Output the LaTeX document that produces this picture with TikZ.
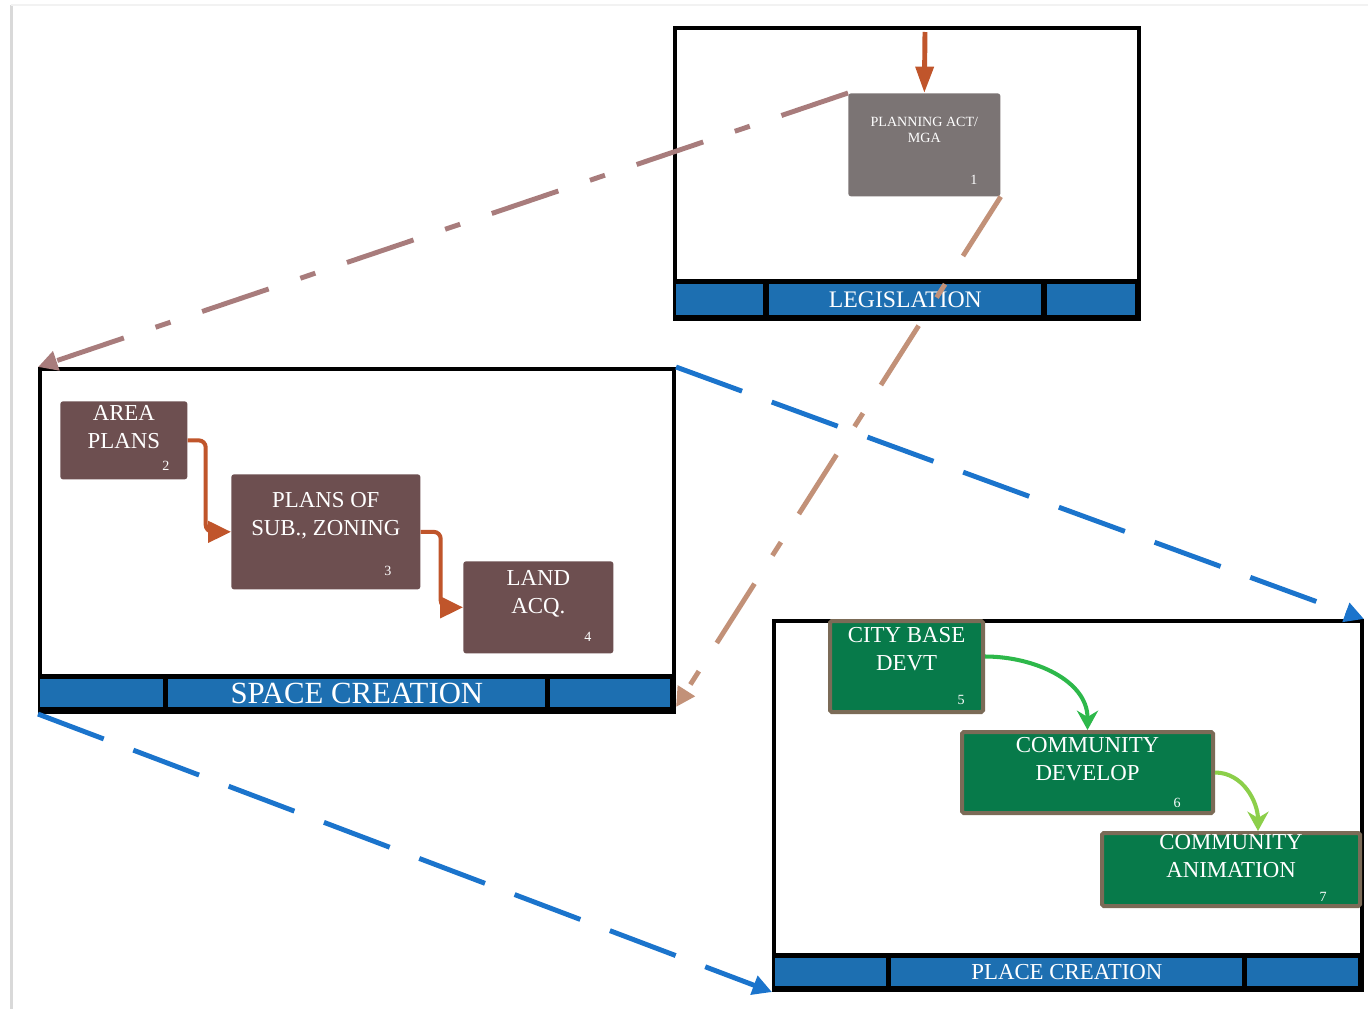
\documentclass[tikz,border=0pt]{standalone}
\usepackage{fontspec}
\setmainfont{Liberation Serif}
\usepackage{tikz}
\usetikzlibrary{arrows.meta}
\usetikzlibrary{positioning}
\definecolor{bandblue}{HTML}{1D6FB1}
\definecolor{zoomblue}{HTML}{1B74CC}
\definecolor{legisgray}{HTML}{7B7474}
\definecolor{spacebrown}{HTML}{6D4F50}
\definecolor{placegreen}{HTML}{077A4A}
\definecolor{placerim}{HTML}{7B6B57}
\definecolor{flowred}{HTML}{C0552B}
\definecolor{linkrose}{HTML}{A87C7C}
\definecolor{linktan}{HTML}{C29178}
\definecolor{flowgreen}{HTML}{2DB84A}
\definecolor{flowlime}{HTML}{8CCF4A}
\tikzstyle{stage_frame} = [rectangle, draw = black, line width = 2.3pt, fill = white, anchor = north west, inner sep = 0]
\tikzstyle{stage_band} = [rectangle, fill = black, anchor = north west, inner sep = 0]
\tikzstyle{band_part} = [rectangle, fill = bandblue, anchor = north west, inner sep = 0, minimum height = 0.56cm, text = white]
\tikzstyle{legis_box} = [rectangle, fill = legisgray, rounded corners = 1.5pt, anchor = north west, inner sep = 0]
\tikzstyle{space_box} = [rectangle, fill = spacebrown, rounded corners = 1.5pt, anchor = north west, inner sep = 0]
\tikzstyle{place_box} = [rectangle, fill = placegreen, draw = placerim, line width = 2.3pt, rounded corners = 1pt, anchor = north west, inner sep = 0]
\tikzstyle{box_text} = [inner sep = 0, align = center, text = white, font = \fontsize{13pt}{15.8pt}\selectfont]
\tikzstyle{num_text} = [inner sep = 0, text = white, font = \fontsize{8pt}{9pt}\selectfont]
\tikzstyle{flow_arrow} = [draw = flowred, line width = 2.3pt, rounded corners = 4pt, -{Triangle[length = 13pt, width = 12pt]}]
\tikzstyle{zoom_line} = [draw = zoomblue, line width = 2.8pt, dash pattern = on 40pt off 18pt, -{Triangle[length = 11pt, width = 11pt]}]
\tikzstyle{legis_link} = [draw = linkrose, line width = 2.8pt, dash pattern = on 40pt off 19pt on 9pt off 19pt, -{Triangle[length = 11pt, width = 11pt]}]

\begin{document}
\begin{tikzpicture}[y = -1cm]
    \useasboundingbox (0, 0) rectangle (27.36, 20.18);
    \draw [gray!30, line width = 1.5pt] (0.23, 0.1) -- (0.23, 20.18);
    \draw [gray!10, line width = 1pt] (0.23, 0.1) -- (27.36, 0.1);

    \node [stage_frame, minimum width = 9.28cm, minimum height = 5.82cm] (legis_frame) at (13.46, 0.52) {};
    \node [stage_band, minimum width = 9.28cm, minimum height = 0.76cm] (legis_band) at (13.46, 5.58) {};
    \node [band_part, minimum width = 1.74cm, minimum height = 0.62cm] (legis_left) at (13.52, 5.68) {};
    \node [band_part, minimum width = 5.44cm, minimum height = 0.62cm, font = \fontsize{13.5pt}{16pt}\selectfont] (legis_mid) at (15.38, 5.68) {LEGISLATION};
    \node [band_part, minimum width = 1.76cm, minimum height = 0.62cm] (legis_right) at (20.94, 5.68) {};

    \node [stage_frame, minimum width = 12.68cm, minimum height = 6.86cm] (space_frame) at (0.76, 7.34) {};
    \node [stage_band, minimum width = 12.68cm, minimum height = 0.72cm] (space_band) at (0.76, 13.48) {};
    \node [band_part, minimum width = 2.46cm] (space_left) at (0.80, 13.58) {};
    \node [band_part, minimum width = 7.54cm, font = \fontsize{17.5pt}{19pt}\selectfont] (space_mid) at (3.36, 13.58) {SPACE CREATION};
    \node [band_part, minimum width = 2.40cm] (space_right) at (11.00, 13.58) {};

    \node [stage_frame, minimum width = 11.76cm, minimum height = 7.38cm] (place_frame) at (15.44, 12.38) {};
    \node [stage_band, minimum width = 11.76cm, minimum height = 0.70cm] (place_band) at (15.44, 19.06) {};
    \node [band_part, minimum width = 2.22cm] (place_left) at (15.50, 19.16) {};
    \node [band_part, minimum width = 7.02cm, font = \fontsize{13pt}{15pt}\selectfont] (place_mid) at (17.82, 19.16) {PLACE CREATION};
    \node [band_part, minimum width = 2.22cm] (place_right) at (24.94, 19.16) {};

    \node [legis_box, minimum width = 3.04cm, minimum height = 2.06cm] (planning_act) at (16.96, 1.86) {};
    \node [box_text, font = \fontsize{8pt}{9pt}\selectfont, below = 0.48cm of planning_act.north] (planning_act_txt) {PLANNING ACT/\\MGA};
    \node [num_text, above left = 0.24cm and 0.46cm of planning_act.south east] (planning_act_num) {1};

    \node [space_box, minimum width = 2.54cm, minimum height = 1.56cm] (area_plans) at (1.20, 8.02) {};
    \node [box_text, below = 0.08cm of area_plans.north] (area_plans_txt) {AREA\\PLANS};
    \node [num_text, above left = 0.18cm and 0.36cm of area_plans.south east] (area_plans_num) {2};

    \node [space_box, minimum width = 3.78cm, minimum height = 2.30cm] (plans_sub) at (4.62, 9.48) {};
    \node [box_text, below = 0.36cm of plans_sub.north] (plans_sub_txt) {PLANS OF\\SUB., ZONING};
    \node [num_text, above left = 0.28cm and 0.58cm of plans_sub.south east] (plans_sub_num) {3};

    \node [space_box, minimum width = 3.00cm, minimum height = 1.84cm] (land_acq) at (9.26, 11.22) {};
    \node [box_text, below = 0.18cm of land_acq.north] (land_acq_txt) {LAND\\ACQ.};
    \node [num_text, above left = 0.24cm and 0.44cm of land_acq.south east] (land_acq_num) {4};

    \node [place_box, minimum width = 3.06cm, minimum height = 1.82cm] (city_base) at (16.56, 12.38) {};
    \node [box_text, below = 0.16cm of city_base.north] (city_base_txt) {CITY BASE\\DEVT};
    \node [num_text, above left = 0.18cm and 0.40cm of city_base.south east] (city_base_num) {5};

    \node [place_box, minimum width = 5.02cm, minimum height = 1.62cm] (comm_dev) at (19.20, 14.60) {};
    \node [box_text, below = 0.14cm of comm_dev.north] (comm_dev_txt) {COMMUNITY\\DEVELOP};
    \node [num_text, above left = 0.14cm and 0.68cm of comm_dev.south east] (comm_dev_num) {6};

    \node [place_box, minimum width = 5.16cm, minimum height = 1.46cm] (comm_anim) at (22.00, 16.62) {};
    \node [box_text, below = 0.06cm of comm_anim.north] (comm_anim_txt) {COMMUNITY\\ANIMATION};
    \node [num_text, above left = 0.12cm and 0.70cm of comm_anim.south east] (comm_anim_num) {7};

    \coordinate (legis_in) at (18.50, 0.64);
    \draw [draw = flowred, line width = 2.8pt, -{Triangle[length = 15pt, width = 10pt]}] (legis_in) -- (planning_act.north);
    \draw [flow_arrow] (area_plans.east) -- ++(0.36, 0) |- (plans_sub.west);
    \draw [flow_arrow] (plans_sub.east) -- ++(0.40, 0) |- (land_acq.west);
    \draw [draw = flowgreen, line width = 2.3pt, -{Stealth[length = 11pt, width = 12pt]}] ([yshift = 5.7pt]city_base.east) to [out = 0, in = 90] (comm_dev.north);
    \draw [draw = flowlime, line width = 2.3pt, -{Stealth[length = 11pt, width = 12pt]}] (comm_dev.east) to [out = 0, in = 90] (comm_anim.55);

    \draw [legis_link] (planning_act.north west) -- (space_frame.north west);
    \draw [legis_link, draw = linktan] (planning_act.south east) -- ([yshift = 4pt]space_frame.south east);
    \draw [zoom_line] (space_frame.north east) -- (place_frame.north east);
    \draw [zoom_line] (space_frame.south west) -- (place_frame.south west);
\end{tikzpicture}
\end{document}
